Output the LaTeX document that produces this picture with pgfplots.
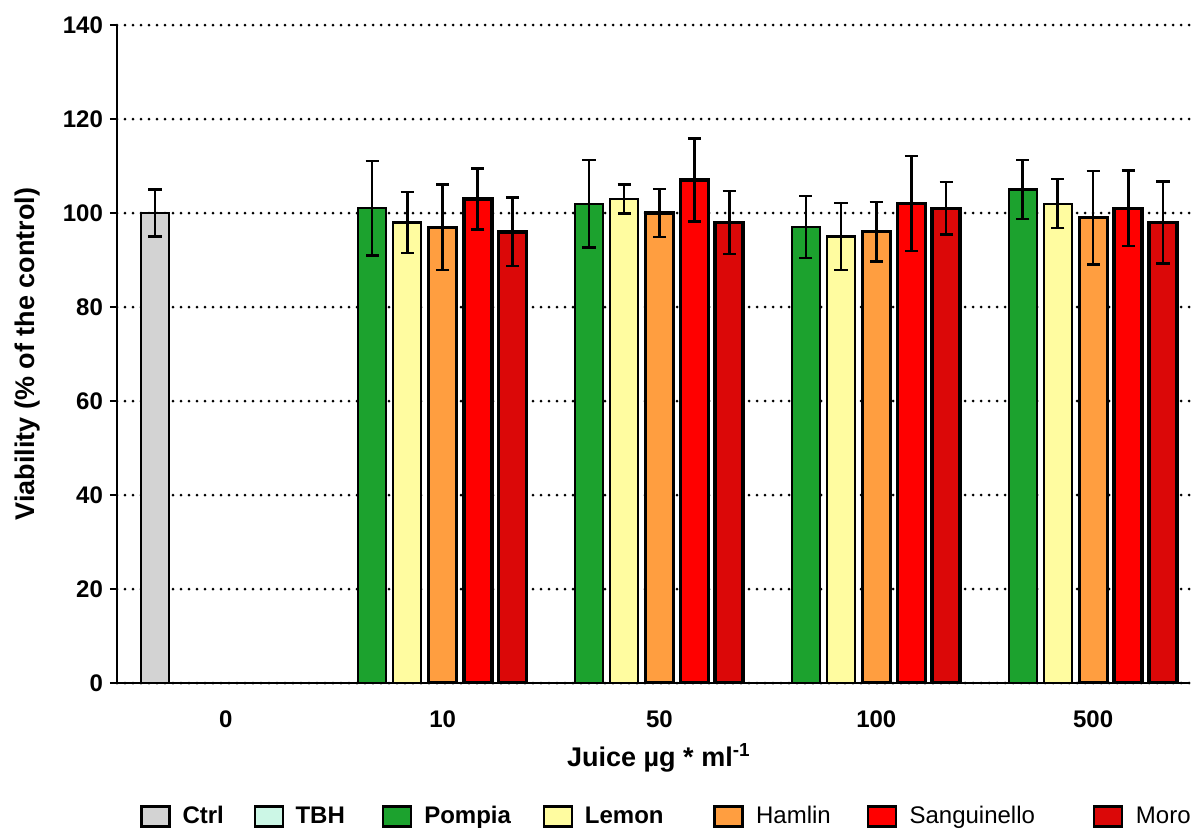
\documentclass[border=0pt]{standalone}
\usepackage{fontspec}
\setmainfont{Liberation Sans}
\usepackage{pgfplots}
\pgfplotsset{compat=1.18}
\usepackage{pgfplotstable}

\definecolor{ctrl}{HTML}{D3D3D3}
\definecolor{tbh}{HTML}{CCF7E6}
\definecolor{pompia}{HTML}{1CA22E}
\definecolor{lemon}{HTML}{FFFCA0}
\definecolor{hamlin}{HTML}{FF9E40}
\definecolor{sang}{HTML}{FF0000}
\definecolor{moro}{HTML}{DB0808}

\pgfplotstableread{
g v e
1 101 10.1
2 102 9.3
3 97 6.6
4 105 6.3
}\pompiatab
\pgfplotstableread{
g v e
1 98 6.5
2 103 3.1
3 95 7.1
4 102 5.2
}\lemontab
\pgfplotstableread{
g v e
1 97 9.1
2 100 5.1
3 96 6.3
4 99 9.9
}\hamlintab
\pgfplotstableread{
g v e
1 103 6.5
2 107 8.8
3 102 10.1
4 101 8.0
}\sangtab
\pgfplotstableread{
g v e
1 96 7.3
2 98 6.7
3 101 5.6
4 98 8.7
}\morotab

\pgfplotsset{
  sqlegend/.style={legend image code/.code={\draw[##1,line width=1.1pt] (0pt,-5pt) rectangle (14pt,5pt); \path (18pt,0pt);}},
  barst/.style={ybar, bar width=14pt, bar shift=0pt, draw=black, sqlegend,
    error bars/y dir=both, error bars/y explicit,
    error bars/error bar style={line width=1.3pt, black},
    error bars/error mark options={rotate=90, mark size=3.3pt, line width=1.3pt, black}},
}

\begin{document}
\begin{tikzpicture}
\path[use as bounding box] (-58.5pt,-74.5pt) rectangle (537.5pt,341.5pt);
\begin{axis}[
  scale only axis, width=536.5pt, height=329pt,
  at={(0,0)}, anchor=south west,
  xmin=-0.502, xmax=4.447, ymin=0, ymax=140,
  axis x line*=bottom, axis y line*=left,
  axis line style={line width=1pt, black},
  ytick={0,20,...,140},
  xtick={0,1,2,3,4}, xticklabels={0,10,50,100,500},
  x tick style={draw=none},
  y tick style={line width=1pt, black},
  tick align=outside, major tick length=3.5pt,
  ymajorgrids,
  grid style={black, line width=1.5pt, dash pattern=on 0pt off 4pt, line cap=round},
  /pgf/number format/assume math mode=true,
  tick label style={font=\bfseries\fontsize{12}{14}\selectfont},
  xticklabel style={yshift=-7pt},
  xlabel={\textbf{Juice µg * ml\textsuperscript{-1}}},
  ylabel={\textbf{Viability (\% of the control)}},
  label style={font=\bfseries\fontsize{13.5}{16}\selectfont},
  xlabel style={at={(axis description cs:0.505,-0.1135)}, anchor=center},
  ylabel style={at={(axis description cs:-0.083,0.5)}, anchor=center},
  legend columns=-1,
  legend cell align=left,
  legend style={draw=none, at={(axis description cs:0.0214,-0.2029)}, anchor=west,
    font=\fontsize{12}{14}\selectfont, inner sep=0pt,
    /tikz/every even column/.append style={column sep=0pt}},
]
\addplot[barst, fill=ctrl, line width=1.1pt] coordinates {(-0.327,100) +- (0,5)};
\addlegendentry{\makebox[33.75pt][l]{\textbf{Ctrl}}}
\addlegendimage{sqlegend, fill=tbh, draw=black}
\addlegendentry{\makebox[41.25pt][l]{\textbf{TBH}}}
\addplot[barst, fill=pompia, line width=1.1pt] table[x expr=\thisrow{g}-0.325, y=v, y error=e] {\pompiatab};
\addlegendentry{\makebox[57.25pt][l]{\textbf{Pompia}}}
\addplot[barst, fill=lemon, line width=1.1pt] table[x expr=\thisrow{g}-0.163, y=v, y error=e] {\lemontab};
\addlegendentry{\makebox[62.25pt][l]{\textbf{Lemon}}}
\addplot[barst, fill=hamlin, line width=1.6pt] table[x expr=\thisrow{g}, y=v, y error=e] {\hamlintab};
\addlegendentry{\makebox[53.25pt][l]{Hamlin}}
\addplot[barst, fill=sang, line width=1.8pt] table[x expr=\thisrow{g}+0.162, y=v, y error=e] {\sangtab};
\addlegendentry{\makebox[89.75pt][l]{Sanguinello}}
\addplot[barst, fill=moro, line width=1.8pt] table[x expr=\thisrow{g}+0.322, y=v, y error=e] {\morotab};
\addlegendentry{Moro}
\end{axis}
\end{tikzpicture}
\end{document}
